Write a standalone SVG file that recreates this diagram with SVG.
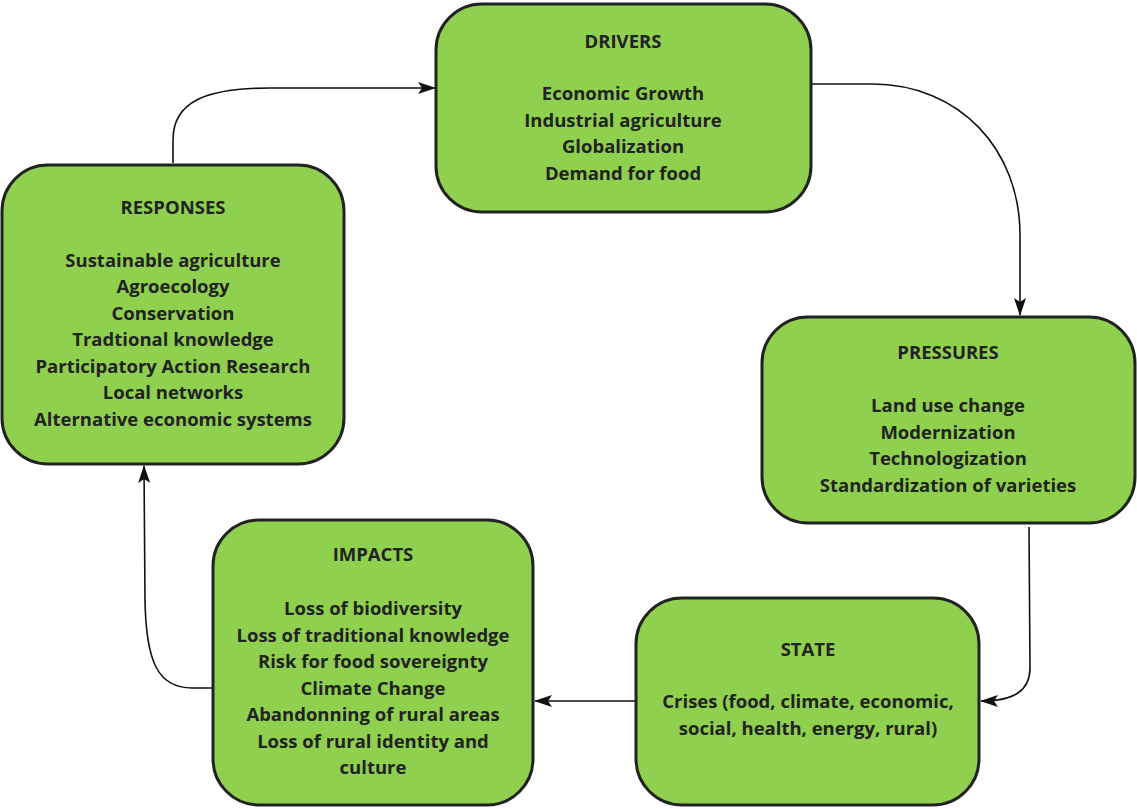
<svg xmlns="http://www.w3.org/2000/svg" width="1137" height="809" viewBox="0 0 1137 809">
  <style>
    .box { fill: #8fd14f; stroke: #222; stroke-width: 3; }
    .t { font-family: "Open Sans", "Liberation Sans", sans-serif; font-weight: 700; font-size: 18.5px; fill: #222; text-anchor: middle; }
    .link { fill: none; stroke: #111; stroke-width: 1.6; marker-end: url(#arrow); }
  </style>
  <defs>
    <marker id="arrow" viewBox="0 0 18 12" refX="17" refY="6" markerWidth="18" markerHeight="12" markerUnits="userSpaceOnUse" orient="auto">
      <path d="M0,0 L18,6 L0,12 L4,6 Z" fill="#111"/>
    </marker>
  </defs>

  <g id="connectors">
    <path class="link" d="M173,163 L173,140 C173,102 205,88 270,88 L435,88"/>
    <path class="link" d="M812,84 L872,84 C960,84 1020,150 1020,235 L1020,315"/>
    <path class="link" d="M1029,527 L1030,668 C1030,690 1015,701 981,701"/>
    <path class="link" d="M636,701 L535,701"/>
    <path class="link" d="M212,688 L192,688 C158,688 146,662 145,600 L144,466"/>
  </g>

  <g id="drivers">
    <rect class="box" x="436" y="4" width="375" height="208" rx="46"/>
    <text class="t" x="623" y="48">DRIVERS</text>
    <text class="t" x="623" y="100">Economic Growth</text>
    <text class="t" x="623" y="127">Industrial agriculture</text>
    <text class="t" x="623" y="153">Globalization</text>
    <text class="t" x="623" y="180">Demand for food</text>
  </g>

  <g id="pressures">
    <rect class="box" x="762" y="317" width="373" height="206" rx="46"/>
    <text class="t" x="948" y="359">PRESSURES</text>
    <text class="t" x="948" y="412">Land use change</text>
    <text class="t" x="948" y="439">Modernization</text>
    <text class="t" x="948" y="465">Technologization</text>
    <text class="t" x="948" y="492">Standardization of varieties</text>
  </g>

  <g id="state">
    <rect class="box" x="636" y="598" width="343" height="207" rx="46"/>
    <text class="t" x="808" y="656">STATE</text>
    <text class="t" x="808" y="708">Crises (food, climate, economic,</text>
    <text class="t" x="808" y="735">social, health, energy, rural)</text>
  </g>

  <g id="impacts">
    <rect class="box" x="213" y="520" width="320" height="285" rx="46"/>
    <text class="t" x="373" y="561">IMPACTS</text>
    <text class="t" x="373" y="615">Loss of biodiversity</text>
    <text class="t" x="373" y="642">Loss of traditional knowledge</text>
    <text class="t" x="373" y="668">Risk for food sovereignty</text>
    <text class="t" x="373" y="695">Climate Change</text>
    <text class="t" x="373" y="721">Abandonning of rural areas</text>
    <text class="t" x="373" y="748">Loss of rural identity and</text>
    <text class="t" x="373" y="774">culture</text>
  </g>

  <g id="responses">
    <rect class="box" x="2" y="165" width="342" height="299" rx="46"/>
    <text class="t" x="173" y="214">RESPONSES</text>
    <text class="t" x="173" y="267">Sustainable agriculture</text>
    <text class="t" x="173" y="293">Agroecology</text>
    <text class="t" x="173" y="320">Conservation</text>
    <text class="t" x="173" y="346">Tradtional knowledge</text>
    <text class="t" x="173" y="373">Participatory Action Research</text>
    <text class="t" x="173" y="399">Local networks</text>
    <text class="t" x="173" y="426">Alternative economic systems</text>
  </g>
</svg>
